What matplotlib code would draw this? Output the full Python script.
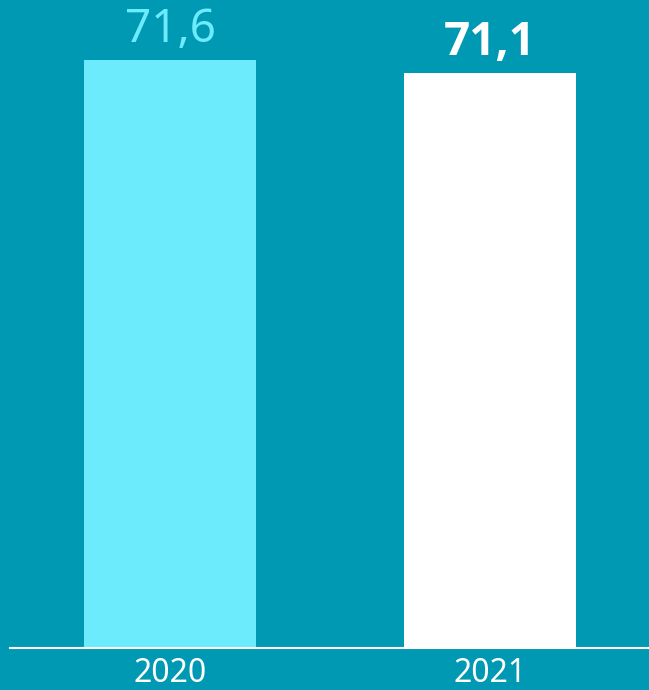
import matplotlib.pyplot as plt

years = ["2020", "2021"]
values = [71.6, 71.1]
labels = ["71,6", "71,1"]
bar_colors = ["#6CEBFC", "#FFFFFF"]
label_colors = ["#6CEBFC", "#FFFFFF"]
label_weights = ["normal", "bold"]
label_fonts = ["Noto Sans", "Open Sans"]

bg = "#0099B4"

fig = plt.figure(figsize=(6.49, 6.9), dpi=100, facecolor=bg)
ax = fig.add_axes([10 / 649, 42.5 / 690, 640 / 649, 647.5 / 690])
ax.set_facecolor(bg)

x = range(len(years))
ax.bar(x, values, width=0.54, color=bar_colors, bottom=0)
ax.set_xlim(-0.5, 1.5)
ax.set_ylim(49, 49 + 647.5 / 26)

for i, (v, lab) in enumerate(zip(values, labels)):
    ax.annotate(lab, (i, v), xytext=(0, 13), textcoords="offset points",
                ha="center", va="baseline", fontsize=33, family=label_fonts[i],
                color=label_colors[i], fontweight=label_weights[i])

for s in ["top", "right", "left"]:
    ax.spines[s].set_visible(False)
ax.spines["bottom"].set_color("white")
ax.spines["bottom"].set_linewidth(1.5)
ax.set_yticks([])
ax.set_xticks(list(x))
ax.set_xticklabels(years, fontsize=23, color="white", family="Noto Sans")
ax.tick_params(axis="x", length=0, pad=7)

fig.savefig("out.png", facecolor=bg)
